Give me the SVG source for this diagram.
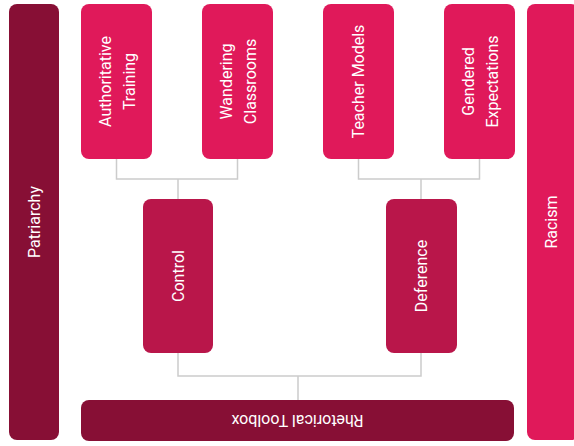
<svg xmlns="http://www.w3.org/2000/svg" width="574" height="446" viewBox="0 0 574 446">
<style>
.t{font-family:Roboto,"Liberation Sans",sans-serif;font-size:16px;fill:#fff;text-anchor:middle;dominant-baseline:central}
.c{fill:none;stroke:#cccccc;stroke-width:1.5}
.top{fill:#e0195a}
.mid{fill:#b9164a}
.dark{fill:#870f35}
</style>
<rect width="574" height="446" fill="#ffffff"/>
<g id="patriarchy"><rect class="dark" x="9" y="4" width="50" height="436" rx="8"/><text class="t" transform="translate(34,222) rotate(-90)">Patriarchy</text></g>
<g id="racism"><rect class="top" x="527" y="4" width="52" height="436" rx="8"/><text class="t" transform="translate(551,222) rotate(-90)">Racism</text></g>
<g id="connectors">
<path class="c" d="M116.5 159V179H237.5V159M178 179V199"/>
<path class="c" d="M358.5 159V179H479.5V159M421 179V199"/>
<path class="c" d="M178 353V376H421V353M298 376V400"/>
</g>
<g id="authoritative"><rect class="top" x="81" y="4" width="71" height="155" rx="8"/><text class="t" transform="translate(116.5,81.5) rotate(-90)"><tspan x="0" y="-12">Authoritative</tspan><tspan x="0" y="12">Training</tspan></text></g>
<g id="wandering"><rect class="top" x="202" y="4" width="71" height="155" rx="8"/><text class="t" transform="translate(237.5,81.5) rotate(-90)"><tspan x="0" y="-12">Wandering</tspan><tspan x="0" y="12">Classrooms</tspan></text></g>
<g id="teacher"><rect class="top" x="323" y="4" width="71" height="155" rx="8"/><text class="t" transform="translate(358.5,81.5) rotate(-90)">Teacher Models</text></g>
<g id="gendered"><rect class="top" x="444" y="4" width="71" height="155" rx="8"/><text class="t" transform="translate(479.5,81.5) rotate(-90)"><tspan x="0" y="-12">Gendered</tspan><tspan x="0" y="12">Expectations</tspan></text></g>
<g id="control"><rect class="mid" x="143" y="199" width="70" height="154" rx="8"/><text class="t" transform="translate(178,276) rotate(-90)">Control</text></g>
<g id="deference"><rect class="mid" x="386" y="199" width="71" height="154" rx="8"/><text class="t" transform="translate(421.5,276) rotate(-90)">Deference</text></g>
<g id="toolbox"><rect class="dark" x="81" y="400" width="433" height="41" rx="8"/><text class="t" transform="translate(297.5,420.5) rotate(180)">Rhetorical Toolbox</text></g>
</svg>
